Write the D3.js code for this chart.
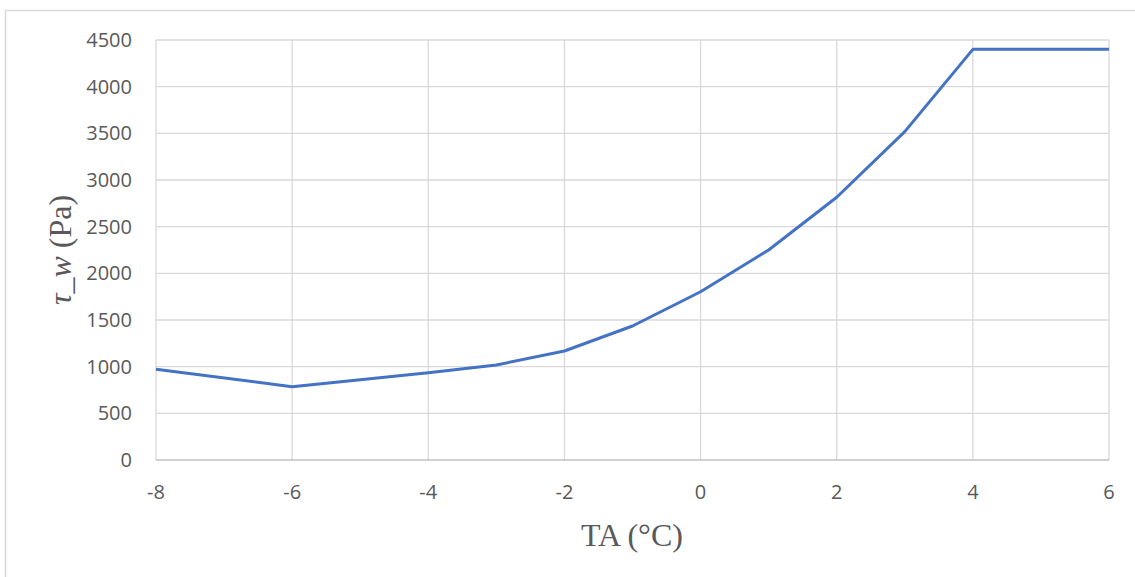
<!DOCTYPE html>
<html><head><meta charset="utf-8">
<script src="https://cdn.jsdelivr.net/npm/d3@7"></script>
<style>body{margin:0;background:#fff;} svg{display:block;}</style>
</head><body>
<svg id="c" width="1135" height="577"></svg>
<script>
const temps = [-8, -6, -4, -3, -2, -1, 0, 1, 2, 3, 4, 6];
const tauW = [972, 785, 935, 1018, 1168, 1436, 1803, 2250, 2815, 3518, 4400, 4400];
const xTicks = [-8, -6, -4, -2, 0, 2, 4, 6];
const yTicks = [0, 500, 1000, 1500, 2000, 2500, 3000, 3500, 4000, 4500];

const svg = d3.select("#c");
const W = 1135, H = 577;
const m = {l: 156, r: 1109, t: 40, b: 460};
const x = d3.scaleLinear().domain([-8, 6]).range([m.l, m.r]);
const y = d3.scaleLinear().domain([0, 4500]).range([m.b, m.t]);

// chart frame (top and left edges visible)
svg.append("line").attr("x1", 5.5).attr("x2", W).attr("y1", 10.5).attr("y2", 10.5).attr("stroke", "#d9d9d9").attr("stroke-width", 1.5);
svg.append("line").attr("x1", 5.5).attr("x2", 5.5).attr("y1", 10.5).attr("y2", H).attr("stroke", "#d9d9d9").attr("stroke-width", 1.5);

// gridlines
svg.append("g").selectAll("line").data(yTicks.filter(d => d > 0)).join("line")
  .attr("x1", m.l).attr("x2", m.r).attr("y1", d => y(d)).attr("y2", d => y(d))
  .attr("stroke", "#d9d9d9").attr("stroke-width", 1.3);
svg.append("g").selectAll("line").data(xTicks).join("line")
  .attr("x1", d => x(d)).attr("x2", d => x(d)).attr("y1", m.t).attr("y2", m.b)
  .attr("stroke", "#d9d9d9").attr("stroke-width", 1.3);

// x axis line
svg.append("line").attr("x1", m.l).attr("x2", m.r).attr("y1", y(0)).attr("y2", y(0))
  .attr("stroke", "#bfbfbf").attr("stroke-width", 1.5);

// tick labels
const tickFont = "'Open Sans', 'Noto Sans', sans-serif";
svg.append("g").selectAll("text").data(yTicks).join("text")
  .attr("x", 132).attr("y", d => y(d)).attr("dy", "0.35em")
  .attr("text-anchor", "end").attr("font-family", tickFont).attr("font-size", 20)
  .attr("fill", "#595959").text(d => d);
svg.append("g").selectAll("text").data(xTicks).join("text")
  .attr("x", d => x(d)).attr("y", 492).attr("dy", "0.35em")
  .attr("text-anchor", "middle").attr("font-family", tickFont).attr("font-size", 20)
  .attr("fill", "#595959").text(d => d);

// data line
const line = d3.line().x((d, i) => x(temps[i])).y(d => y(d));
svg.append("path").datum(tauW).attr("d", line)
  .attr("fill", "none").attr("stroke", "#4472c4").attr("stroke-width", 3).attr("stroke-linejoin", "round");

// axis titles
const serif = "'Liberation Serif', 'Times New Roman', serif";
svg.append("text").attr("x", 632).attr("y", 535).attr("dy", "0.35em")
  .attr("text-anchor", "middle").attr("font-family", serif).attr("font-size", 32)
  .attr("fill", "#595959").text("TA (°C)");
const yt = svg.append("text").attr("transform", "translate(60,250) rotate(-90)")
  .attr("dy", "0.35em").attr("text-anchor", "middle").attr("font-family", serif)
  .attr("font-size", 32).attr("fill", "#595959");
yt.append("tspan").attr("font-style", "italic").text("τ_w");
yt.append("tspan").text(" (Pa)");
</script>
</body></html>
